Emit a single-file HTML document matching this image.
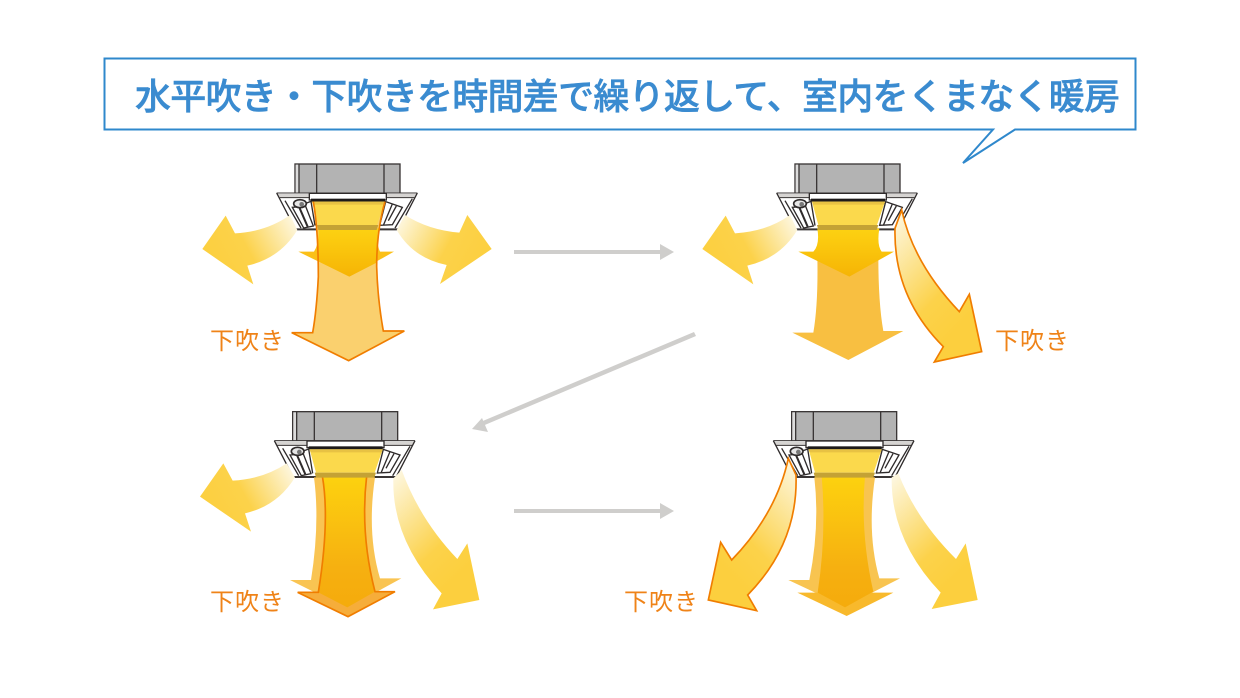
<!DOCTYPE html>
<html lang="ja"><head><meta charset="utf-8"><style>
html,body{margin:0;padding:0;background:#fff;width:1240px;height:698px;overflow:hidden}
svg{display:block}
.t{font-family:"Liberation Sans","Noto Sans CJK JP",sans-serif;font-weight:500;font-size:36px;fill:#3a8bd0;stroke:#3a8bd0;stroke-width:.5px}
.l{font-family:"Liberation Sans","Noto Sans CJK JP",sans-serif;font-weight:400;font-size:24px;fill:#ef8318;letter-spacing:1px}
</style></head><body>
<svg width="1240" height="698" viewBox="0 0 1240 698" xmlns="http://www.w3.org/2000/svg">
<defs>
<linearGradient id="gl" x1="1" y1="0.2" x2="0" y2="0.6"><stop offset="0" stop-color="#fdf6dc"/><stop offset=".55" stop-color="#fcd24a"/><stop offset="1" stop-color="#fccf3e"/></linearGradient>
<linearGradient id="gr" x1="0" y1="0.2" x2="1" y2="0.6"><stop offset="0" stop-color="#fdf6dc"/><stop offset=".55" stop-color="#fcd24a"/><stop offset="1" stop-color="#fccf3e"/></linearGradient>
<linearGradient id="gd" x1="0.1" y1="0" x2="0.6" y2="0.85"><stop offset="0" stop-color="#fdf6dc"/><stop offset=".7" stop-color="#fcd24a"/><stop offset="1" stop-color="#fccf3e"/></linearGradient>
<linearGradient id="gdl" x1="0.9" y1="0" x2="0.4" y2="0.85"><stop offset="0" stop-color="#fdf6dc"/><stop offset=".7" stop-color="#fcd24a"/><stop offset="1" stop-color="#fccf3e"/></linearGradient>
<linearGradient id="gy" x1="0" y1="0" x2="0" y2="1"><stop offset="0" stop-color="#fdd212"/><stop offset="1" stop-color="#f6b405"/></linearGradient>
<linearGradient id="gy2" x1="0" y1="0" x2="0" y2="1"><stop offset="0" stop-color="#fdd20f"/><stop offset=".7" stop-color="#f6b010"/><stop offset="1" stop-color="#f5ab0c"/></linearGradient>
<g id="unit">
 <rect x="0" y="0" width="315" height="88" fill="#b3b3b3" stroke="#3a3636" stroke-width="4"/>
 <rect x="2" y="2" width="10" height="84" fill="#dcdcdc"/>
 <path d="M12,0V88M65,0V88M267,0V88" stroke="#3a3636" stroke-width="4" fill="none"/>
 <path d="M-55,87H367L310,197H2Z" fill="#fff"/>
 <path d="M-52,90H364L358,101H-46Z" fill="#d6d4d2"/>
 <path d="M-55,87H367M-46,101H358" stroke="#3a3636" stroke-width="3" fill="none"/>
 <path d="M-55,87L2,197M-30,110L18,192M367,87L310,197M352,104L300,192" stroke="#2f2b2b" stroke-width="4" fill="none"/>
 <path d="M-8,130L32,127L55,186L26,192Z" fill="#fff" stroke="#2f2b2b" stroke-width="4"/>
 <path d="M12,128L38,188" stroke="#2f2b2b" stroke-width="6"/>
 <path d="M32,118L48,112L60,185" fill="#fff" stroke="#2f2b2b" stroke-width="4"/>
 <path d="M272,113L322,130L292,182L254,184Z" fill="#fff" stroke="#2f2b2b" stroke-width="4"/>
 <path d="M292,120L265,184M304,126L280,170" stroke="#2f2b2b" stroke-width="4" fill="none"/>
 <ellipse cx="15" cy="119" rx="19" ry="12" fill="#e6e6e6" stroke="#2f2b2b" stroke-width="5"/>
 <circle cx="20" cy="121" r="7" fill="#777"/>
 <path d="M2,193H310V199H2Z" fill="#3a3636"/>
 <rect x="43" y="88" width="231" height="20" fill="#fff" stroke="#2f2b2b" stroke-width="4"/>
 <rect x="48" y="104" width="222" height="9" fill="#1d1a1a"/>
</g>
<g id="louver">
 <path d="M51,113H270L246,183H70Z" fill="#fbd94c"/>
 <path d="M51,113H270L267,122H54Z" fill="#e8c243"/>
 <path d="M66,183H250L245,198H70Z" fill="#c4a235"/>
</g>
</defs>

<!-- callout -->
<path d="M104.500,58.500H1135.500V129.500H1015L963,163L993,129.500H104.500Z" fill="#fff" stroke="#2f88cc" stroke-width="2"/>
<text class="t" x="135" y="109" textLength="985" lengthAdjust="spacing">水平吹き・下吹きを時間差で繰り返して、室内をくまなく暖房</text>

<!-- gray arrows -->
<g fill="#cfcecc" stroke="none">
 <rect x="514" y="250" width="148" height="4"/><path d="M660,244L674,252L660,260Z"/>
 <rect x="514" y="509" width="148" height="4"/><path d="M660,503L674,511L660,519Z"/>
 <path d="M694,332L696,336L480,427L478,423Z"/><path d="M472,429L482,418L488,432Z"/>
</g>

<!-- unit 1 -->
<g transform="translate(190,150) scale(.33333)">
 <use href="#unit" transform="translate(315,42)"/>
 <path d="M300,195Q230,245 135,250L107,197L37,297L190,403L172,347Q270,325 322,240Z" fill="url(#gl)"/>
 <path d="M645,195Q715,240 808,248L832,195L905,297L750,402L770,345Q670,325 620,240Z" fill="url(#gr)"/>
 <path d="M370,155Q385,240 385,380Q380,480 368,548L305,548L476,632L643,543L580,543Q563,450 560,350Q560,240 585,155Z" fill="#fad06e"/>
 <path d="M385,235Q388,280 372,305L325,305L478,380L612,305L570,305Q558,280 565,235Z" fill="#fbc018"/>
 <path d="M385,235H565Q556,280 560,338L478,380L386,334Q388,280 385,235Z" fill="url(#gy)"/>
 <use href="#louver" transform="translate(315,42)"/>
 <path d="M370,155Q385,240 385,380Q380,480 368,548L305,548L476,632L643,543L580,543Q563,450 560,350Q560,240 585,155" fill="none" stroke="#f07d00" stroke-width="5"/>
</g>
<text class="l" x="210" y="349">下吹き</text>

<!-- unit 2 -->
<g transform="translate(680,150) scale(.33333)">
 <use href="#unit" transform="translate(345,42)"/>
 <path d="M330,195Q260,245 165,250L137,197L67,297L220,403L202,347Q300,325 352,240Z" fill="url(#gl)"/>
 <path d="M665,180Q700,340 838,485L868,433L905,605L763,636L790,590Q640,440 645,235Z" fill="url(#gd)" stroke="#f07d00" stroke-width="5"/>
 <path d="M412,320Q415,460 400,548L337,548L505,630L670,543L610,543Q595,460 595,320Z" fill="#f8bf41"/>
 <path d="M412,235Q420,285 400,305L355,305L508,380L642,305L605,305Q590,285 598,235Z" fill="url(#gy)"/>
 <use href="#louver" transform="translate(345,42)"/>
</g>
<text class="l" x="995" y="349">下吹き</text>

<!-- unit 3 -->
<g transform="translate(190,400) scale(.33333)">
 <use href="#unit" transform="translate(308,35)"/>
 <path d="M290,190Q220,237 128,242L100,190L30,290L183,395L165,340Q262,318 315,232Z" fill="url(#gl)"/>
 <path d="M635,210Q690,360 802,477L832,430L868,600L729,628L755,580Q605,420 610,235Z" fill="url(#gd)"/>
 <path d="M372,232Q390,370 363,540L300,540L470,625L634,535L570,535Q530,400 555,232Z" fill="#f9c452"/>
 <path d="M323,577L474,650L615,575Z" fill="#f6ad3a"/>
 <path d="M397,228Q420,360 385,577L472,622L555,575Q510,400 530,228Z" fill="url(#gy2)"/>
 <path d="M397,228Q420,360 385,577L323,577L474,650L615,575L555,575Q510,400 530,228" fill="none" stroke="#f07d00" stroke-width="5"/>
 <use href="#louver" transform="translate(308,35)"/>
</g>
<text class="l" x="210" y="610">下吹き</text>

<!-- unit 4 -->
<g transform="translate(680,400) scale(.33333)">
 <use href="#unit" transform="translate(335,35)"/>
 <path d="M325,175Q290,340 155,480L122,427L85,600L230,632L203,585Q355,430 348,225Z" fill="url(#gdl)" stroke="#f07d00" stroke-width="5"/>
 <path d="M655,220Q710,360 828,477L857,430L893,600L755,627L782,578Q632,420 635,232Z" fill="url(#gd)"/>
 <path d="M403,232Q420,380 388,540L325,540L495,620L660,535L598,535Q560,400 585,232Z" fill="#f8c450"/>
 <path d="M352,578L500,648L640,578Z" fill="#f8b92c"/>
 <path d="M425,228Q440,400 413,578L495,622L580,575Q540,400 555,228Z" fill="url(#gy2)"/>
 <use href="#louver" transform="translate(335,35)"/>
</g>
<text class="l" x="624" y="610">下吹き</text>
</svg>
</body></html>
